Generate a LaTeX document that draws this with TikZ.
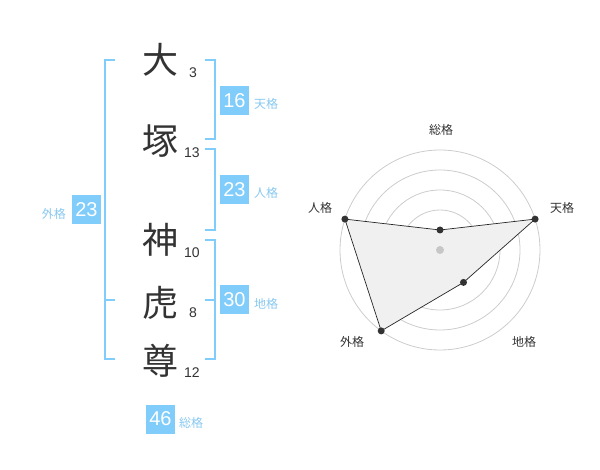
\documentclass[tikz,border=0pt]{standalone}
\usepackage{fontspec}
\setmainfont{Noto Sans CJK JP}
\newfontfamily\cjk{Noto Sans CJK JP}
\newfontfamily\arialike{Liberation Sans}
\begin{document}
\begin{tikzpicture}[x=1pt,y=-1pt,
  kanji/.style={font=\cjk\fontsize{36}{36}\selectfont, text=black!80, inner sep=0pt},
  stroke/.style={font=\arialike\fontsize{14}{14}\selectfont, text=black!80, inner sep=0pt},
  valbox/.style={fill=boxblue, text=white, minimum width=29pt, minimum height=29pt, inner sep=0pt, font=\arialike\fontsize{20}{20}\selectfont},
  kaku/.style={font=\cjk\fontsize{12}{12}\selectfont, text=labblue, inner sep=0pt},
  brk/.style={draw=boxblue, line width=2pt},
  ring/.style={draw=black!20, line width=0.8pt},
  rlab/.style={font=\cjk\fontsize{12}{12}\selectfont, text=black!80, inner sep=0pt},
  dot/.style={circle, fill=black!80, minimum size=7pt, inner sep=0pt}
]
\definecolor{boxblue}{HTML}{80CCFA}
\definecolor{labblue}{HTML}{88C8F0}
\useasboundingbox (0,0) rectangle (600,470);
% kanji
\node[kanji] (k1) at (160,60) {大};
\node[kanji] (k2) at (160,141) {塚};
\node[kanji] (k3) at (160,240) {神};
\node[kanji] (k4) at (160,303) {虎};
\node[kanji] (k5) at (160,361) {尊};
\node[stroke] (s1) at (193,73) {3};
\node[stroke] (s2) at (192,153) {13};
\node[stroke] (s3) at (192,253) {10};
\node[stroke] (s4) at (193,313) {8};
\node[stroke] (s5) at (192,373) {12};
% brackets
\draw[brk] (115,60) -- (105,60) -- (105,359) -- (115,359);
\draw[brk] (105,300) -- (115,300);
\draw[brk] (205,60) -- (215,60) -- (215,139) -- (205,139);
\draw[brk] (205,149) -- (215,149) -- (215,230) -- (205,230);
\draw[brk] (205,240) -- (215,240) -- (215,359) -- (205,359);
\draw[brk] (205,300) -- (215,300);
% value boxes
\node[valbox] (b1) at (234.5,100.5) {16};
\node[kaku, anchor=west] (l1) at (254,104) {天格};
\node[valbox] (b2) at (234.5,190) {23};
\node[kaku, anchor=west] (l2) at (254,193) {人格};
\node[valbox] (b3) at (86.5,210) {23};
\node[kaku, anchor=east] (l3) at (66,214) {外格};
\node[valbox] (b4) at (234.5,300) {30};
\node[kaku, anchor=west] (l4) at (254,304) {地格};
\node[valbox] (b5) at (160.5,419) {46};
\node[kaku, anchor=west] (l5) at (179,423) {総格};
% radar
\coordinate (c) at (440,250);
\foreach \r in {20,40,60,80,100} \draw[ring] (c) circle[radius=\r];
\path (440+95.1,250-30.9) coordinate (pT);
\path (440+23.5,250+32.4) coordinate (pC);
\path (440-58.8,250+80.9) coordinate (pG);
\path (440-95.1,250-30.9) coordinate (pJ);
\path (440,230) coordinate (pA);
\fill[black!6] (pA) -- (pT) -- (pC) -- (pG) -- (pJ) -- cycle;
\draw[black!85, line width=0.7pt] (pA) -- (pT) -- (pC) -- (pG) -- (pJ) -- cycle;
\node[circle, fill=black!22, minimum size=8pt, inner sep=0pt] (cd) at (c) {};
\node[dot] (dA) at (pA) {};
\node[dot] (dT) at (pT) {};
\node[dot] (dC) at (pC) {};
\node[dot] (dG) at (pG) {};
\node[dot] (dJ) at (pJ) {};
\node[rlab] (rA) at (441,130) {総格};
\node[rlab] (rT) at (562,208) {天格};
\node[rlab] (rJ) at (320,208) {人格};
\node[rlab] (rG) at (352,342) {外格};
\node[rlab] (rC) at (524,342) {地格};
\end{tikzpicture}
\end{document}
